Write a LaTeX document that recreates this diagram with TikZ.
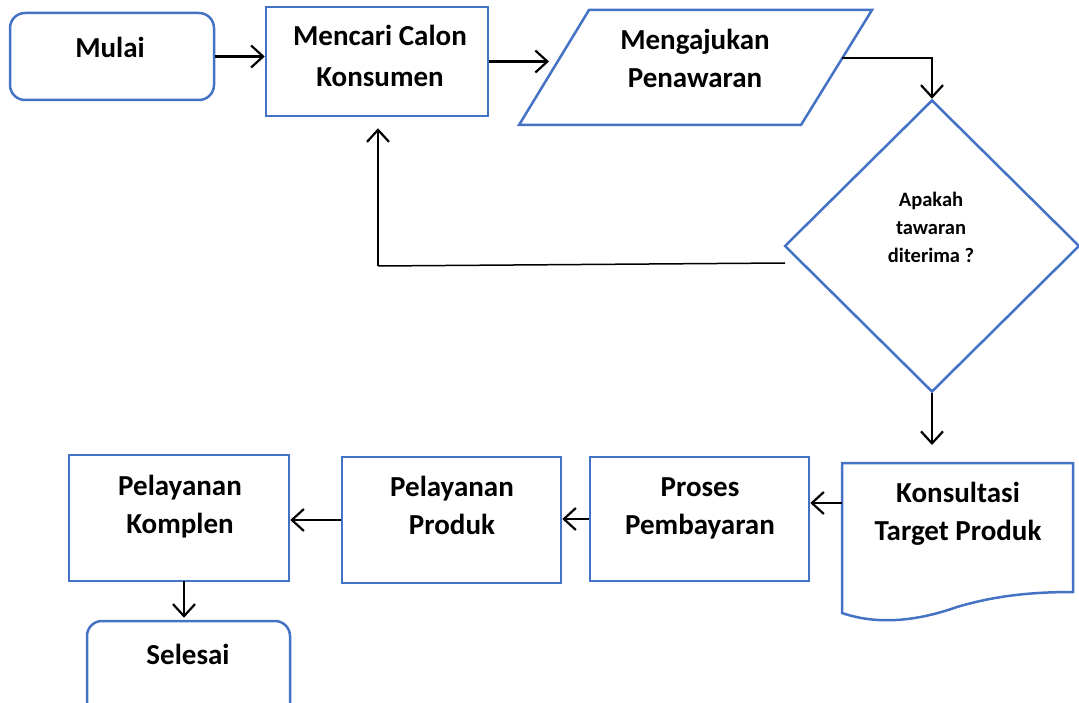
\documentclass[tikz,border=0pt]{standalone}
\usepackage{fontspec}
\setmainfont{Carlito}
\usetikzlibrary{arrows.meta,shapes.geometric}
\definecolor{ob}{HTML}{4472C4}
\begin{document}
\begin{tikzpicture}[x=1pt,y=-1pt,
  shp/.style={draw=ob, line width=2.5pt, fill=white},
  boxn/.style={shp, rectangle, inner sep=0pt},
  lbl/.style={font=\fontsize{29}{38}\selectfont\bfseries, align=center, inner sep=0pt},
  small/.style={font=\fontsize{20.5}{28}\selectfont\bfseries, align=center, inner sep=0pt},
  arr/.style={draw=black, line width=2.2pt, -{Straight Barb[length=12pt,width=22pt]}},
  thin/.style={draw=black, line width=1.5pt}
]
\useasboundingbox (0,0) rectangle (1079,703);
\clip (0,0) rectangle (1079,703);

% shapes
\node[boxn, rounded corners=15pt, minimum width=204pt, minimum height=87pt] (mulai) at (112,56.5) {};
\node[boxn, minimum width=222pt, minimum height=109pt] (mencari) at (377,61.5) {};
\coordinate (p1) at (589,10);
\coordinate (p2) at (872,10);
\coordinate (p3) at (801,125);
\coordinate (p4) at (519,125);
\draw[shp] (p1) -- (p2) -- (p3) -- (p4) -- cycle;
\node[shp, diamond, minimum width=295pt, minimum height=292pt, inner sep=0pt] (dec) at (932,246) {};
\coordinate (dtl) at (842,463);
\coordinate (dtr) at (1073,463);
\draw[shp] (dtl) -- (dtr) -- (1073,592) .. controls (1030,592) and (994,596) .. (957,607)
  .. controls (920,620) and (880,626) .. (842,613) -- cycle;
\node[boxn, minimum width=219pt, minimum height=124pt] (proses) at (699.5,519) {};
\node[boxn, minimum width=219pt, minimum height=126pt] (produk) at (451.5,520) {};
\node[boxn, minimum width=220pt, minimum height=126pt] (komplen) at (179,518) {};
\node[boxn, rounded corners=15pt, minimum width=203pt, minimum height=98pt] (selesai) at (188.5,670) {};

% texts
\node[lbl] (tmulai) at (110,47.5) {Mulai};
\node[lbl] (tmencari) at (380,56) {Mencari Calon\\[3pt]Konsumen};
\node[lbl] (tpeng) at (695,58.5) {Mengajukan\\Penawaran};
\node[small] (tdec) at (931,227) {Apakah\\tawaran\\diterima ?};
\node[lbl] (tkonsul) at (958,514) {Konsultasi\\Target Produk};
\node[lbl] (tproses) at (700,508) {Proses\\Pembayaran};
\node[lbl] (tproduk) at (452,505.5) {Pelayanan\\Produk};
\node[lbl] (tkomplen) at (180,507) {Pelayanan\\Komplen};
\node[lbl] (tselesai) at (188,654.5) {Selesai};

% connectors
\coordinate (pin) at (549,61.5);
\coordinate (pout) at (842,58);
\coordinate (ret) at (785,263);
\coordinate (corner) at (378,266);
\coordinate (dtop) at (932,463);
\coordinate (dk) at (842,503);
\coordinate (kdown) at (184,581);

\draw[arr] (mulai.east) -- (mulai.east -| mencari.west);
\draw[arr] (mencari.east) -- (pin);
\draw[arr] (pout) -| (dec.north);
\draw[thin] (ret) -- (corner);
\draw[arr] (corner) -- ([yshift=-11pt]mencari.south -| corner);
\draw[arr] (dec.south) -- ([yshift=18pt]dtop);
\draw[arr] (dk) -- (dk -| proses.east);
\draw[arr] (proses.west) -- (proses.west -| produk.east);
\draw[arr] (produk.west) -- (produk.west -| komplen.east);
\draw[arr, shorten >=2pt] (kdown) -- (kdown |- selesai.north);
\end{tikzpicture}
\end{document}
